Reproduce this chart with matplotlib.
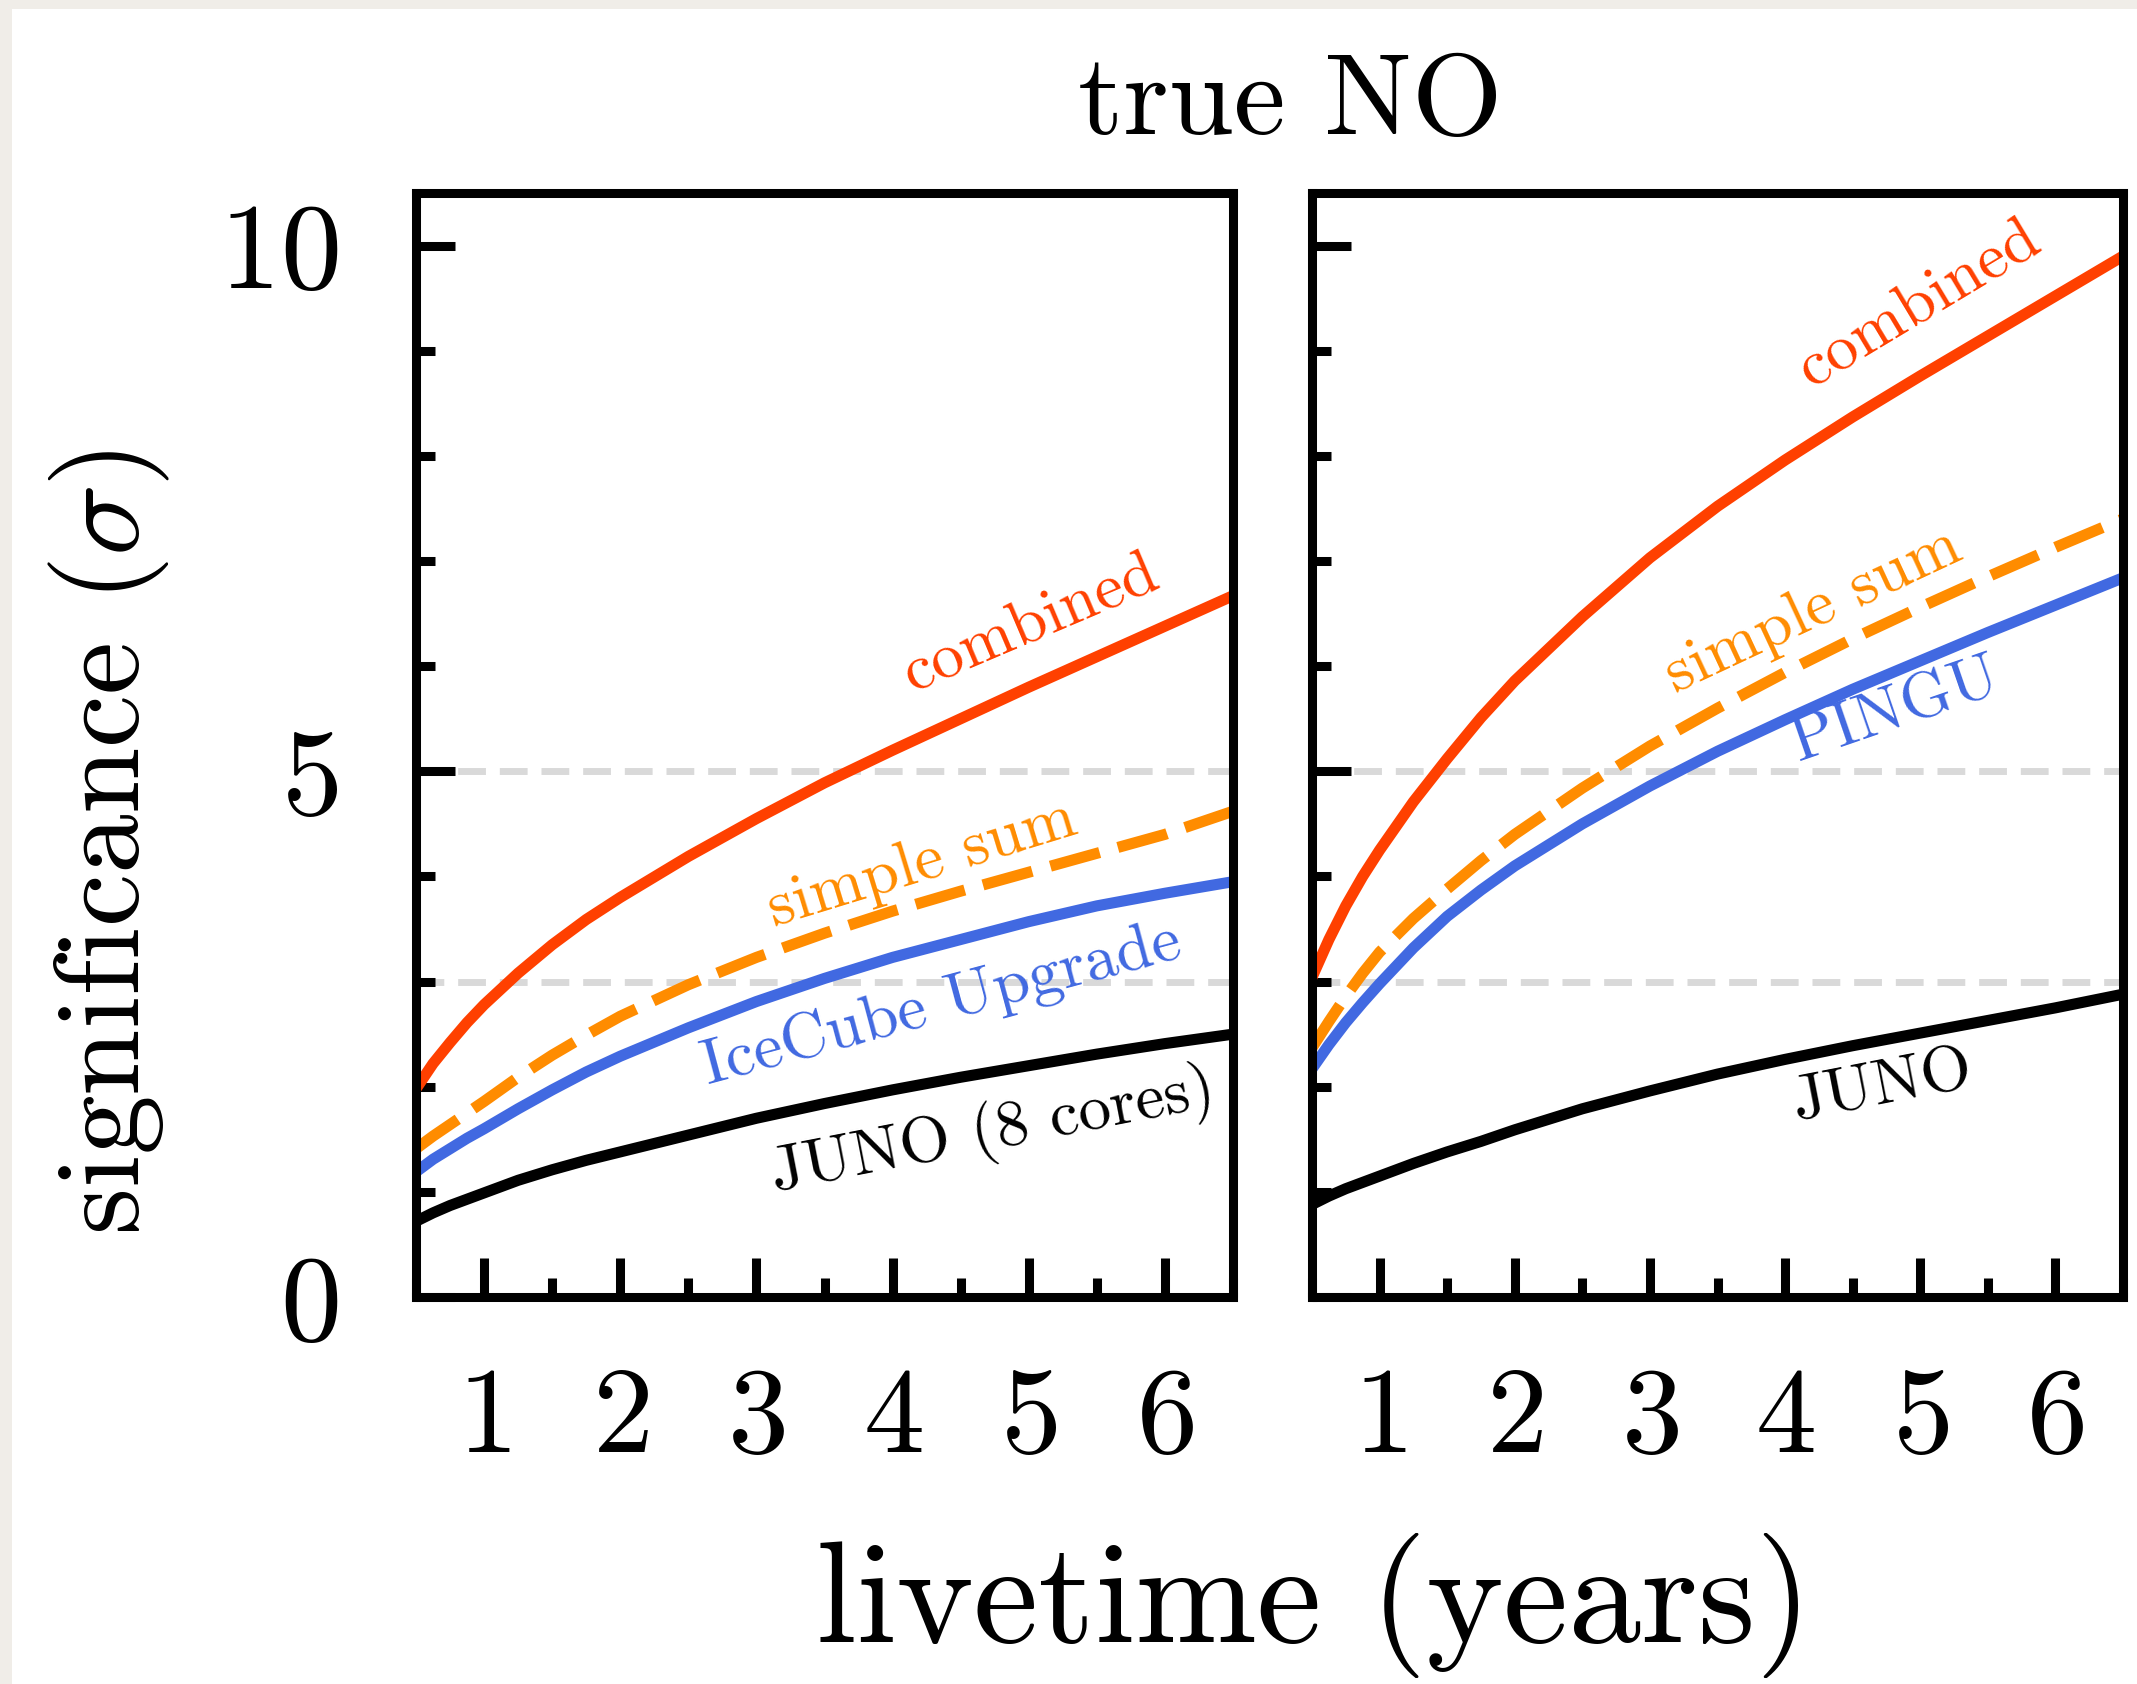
import matplotlib
matplotlib.use("Agg")
import matplotlib.pyplot as plt
from matplotlib.ticker import MultipleLocator
from matplotlib.patches import Rectangle

plt.rcParams["font.family"] = "cmr10"
plt.rcParams["mathtext.fontset"] = "cm"
plt.rcParams["axes.formatter.use_mathtext"] = True

# livetime in years
years = [0.5, 0.625, 0.75, 0.875, 1, 1.25, 1.5, 1.75, 2, 2.5, 3, 3.5, 4, 4.5, 5, 5.5, 6, 6.5]

# left: IceCube Upgrade with JUNO (8 cores)
combined_icu = [1.98, 2.22, 2.42, 2.61, 2.78, 3.08, 3.35, 3.59, 3.80, 4.19, 4.55, 4.89, 5.20,
                5.50, 5.80, 6.09, 6.38, 6.67]
simple_sum_icu = [1.41, 1.53, 1.64, 1.75, 1.86, 2.09, 2.30, 2.49, 2.67, 2.97, 3.23, 3.46, 3.67,
                  3.86, 4.04, 4.22, 4.40, 4.62]
icecube_upgrade = [1.19, 1.31, 1.41, 1.51, 1.60, 1.79, 1.97, 2.14, 2.29, 2.56, 2.81, 3.03, 3.23,
                   3.40, 3.57, 3.72, 3.84, 3.95]
juno_8cores = [0.72, 0.80, 0.87, 0.93, 0.99, 1.11, 1.21, 1.30, 1.38, 1.54, 1.70, 1.84, 1.97,
               2.09, 2.20, 2.31, 2.41, 2.50]

# right: PINGU with JUNO
combined_pingu = [3.04, 3.40, 3.72, 4.00, 4.25, 4.71, 5.12, 5.51, 5.86, 6.47, 7.03, 7.52, 7.96,
                  8.37, 8.76, 9.14, 9.52, 9.90]
simple_sum_pingu = [2.37, 2.62, 2.86, 3.08, 3.28, 3.60, 3.88, 4.15, 4.40, 4.84, 5.24, 5.60, 5.94,
                    6.26, 6.56, 6.85, 7.13, 7.40]
pingu = [2.17, 2.40, 2.61, 2.80, 2.98, 3.32, 3.62, 3.87, 4.10, 4.50, 4.86, 5.19, 5.49,
         5.78, 6.05, 6.32, 6.58, 6.84]
juno = [0.88, 0.96, 1.03, 1.09, 1.15, 1.27, 1.38, 1.48, 1.59, 1.79, 1.96, 2.12, 2.26,
        2.39, 2.51, 2.63, 2.75, 2.88]

sigma_levels = [3, 5]
x_ticks = [1, 2, 3, 4, 5, 6]
y_ticks = [0, 5, 10]

RED = "#ff4000"
ORANGE = "#ff8c00"
BLUE = "#4169e1"
GRID = "#d9d9d9"

W, H = 2137, 1684
fig = plt.figure(figsize=(W / 100, H / 100), dpi=100)
fig.patch.set_facecolor("white")

# paper-coloured margin along the top and left edges
fig.patches.append(Rectangle((0, 1 - 9 / H), 1, 9 / H, transform=fig.transFigure,
                             facecolor="#f0ede8", edgecolor="none", zorder=-10))
fig.patches.append(Rectangle((0, 0), 12 / W, 1, transform=fig.transFigure,
                             facecolor="#f0ede8", edgecolor="none", zorder=-10))

bottom = 1 - 1297 / H
height = (1297 - 193) / H
ax1 = fig.add_axes([416 / W, bottom, 817 / W, height])
ax2 = fig.add_axes([1312 / W, bottom, 811 / W, height])

FRAME_LW = 6.5
CURVE_LW = 8.0


def style_axes(ax, show_ylabels):
    ax.set_xlim(0.5, 6.5)
    ax.set_ylim(0, 10.5)
    ax.set_xticks(x_ticks)
    ax.set_yticks(y_ticks)
    ax.xaxis.set_minor_locator(MultipleLocator(0.5))
    ax.yaxis.set_minor_locator(MultipleLocator(1))
    for s in ax.spines.values():
        s.set_linewidth(FRAME_LW)
        s.set_zorder(5)
    ax.tick_params(which="both", direction="in", top=False, right=False,
                   width=FRAME_LW, colors="black", labelsize=88)
    ax.tick_params(which="major", length=28)
    ax.tick_params(which="minor", length=14)
    ax.tick_params(axis="x", which="major", pad=50)
    ax.tick_params(axis="y", which="major", pad=56, labelleft=show_ylabels)
    for lev in sigma_levels:
        ax.axhline(lev, color=GRID, lw=5, dashes=(4, 2), zorder=1)


def draw_panel(ax, comb, ssum, exp, jn):
    ax.plot(years, jn, color="black", lw=CURVE_LW, solid_joinstyle="round", zorder=3)
    ax.plot(years, exp, color=BLUE, lw=CURVE_LW, solid_joinstyle="round", zorder=3)
    ax.plot(years, ssum, color=ORANGE, lw=CURVE_LW, dashes=(4.6, 1.7), zorder=3)
    ax.plot(years, comb, color=RED, lw=CURVE_LW, solid_joinstyle="round", zorder=3)


style_axes(ax1, True)
style_axes(ax2, False)
draw_panel(ax1, combined_icu, simple_sum_icu, icecube_upgrade, juno_8cores)
draw_panel(ax2, combined_pingu, simple_sum_pingu, pingu, juno)

LABEL_SIZE = 47
labels_left = [
    ("combined", 5.02, 6.39, 23, RED),
    ("simple sum", 4.22, 4.11, 17, ORANGE),
    ("IceCube Upgrade", 4.36, 2.78, 15, BLUE),
    ("JUNO (8 cores)", 4.74, 1.57, 11, "black"),
]
labels_right = [
    ("combined", 5.00, 9.44, 31, RED),
    ("simple sum", 4.21, 6.52, 25, ORANGE),
    ("PINGU", 4.82, 5.58, 19, BLUE),
    ("JUNO", 4.72, 2.00, 11, "black"),
]
for ax, labs in ((ax1, labels_left), (ax2, labels_right)):
    for txt, x, y, ang, col in labs:
        ax.text(x, y, txt, color=col, fontsize=LABEL_SIZE, rotation=ang,
                rotation_mode="anchor", ha="center", va="center", zorder=4)

fig.text(1290 / W, 1 - 134 / H, "true NO", fontsize=84, ha="center", va="baseline")
fig.text(1314 / W, 1 - 1642 / H, "livetime (years)", fontsize=105, ha="center", va="baseline")
fig.text(109 / W, 1 - 843 / H, r"significance ($\sigma$)", fontsize=86,
         rotation=90, ha="center", va="center")

fig.savefig("out.png", dpi=100)
